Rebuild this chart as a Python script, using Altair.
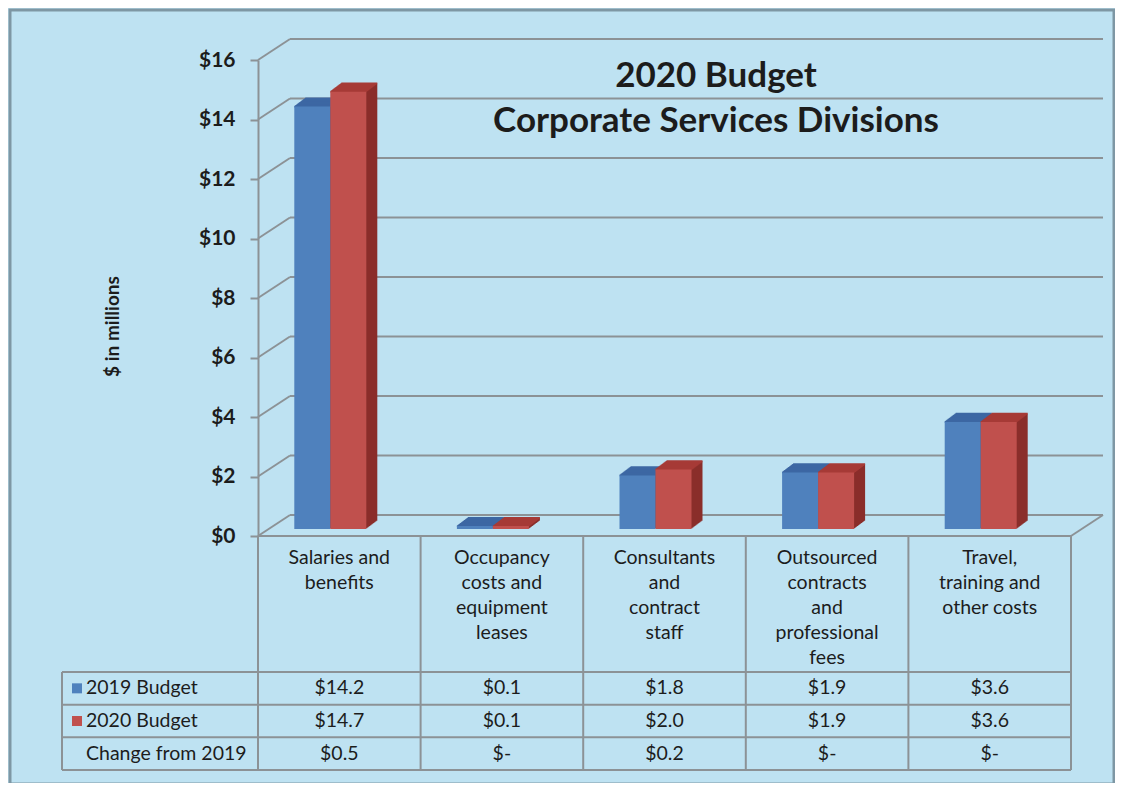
import altair as alt
import pandas as pd

# ---------------- data ----------------
categories = [
    "Salaries and benefits",
    "Occupancy costs and equipment leases",
    "Consultants and contract staff",
    "Outsourced contracts and professional fees",
    "Travel, training and other costs",
]
category_lines = [
    "Salaries and\nbenefits",
    "Occupancy\ncosts and\nequipment\nleases",
    "Consultants\nand\ncontract\nstaff",
    "Outsourced\ncontracts\nand\nprofessional\nfees",
    "Travel,\ntraining and\nother costs",
]
budget_2019 = [14.2, 0.1, 1.8, 1.9, 3.6]
budget_2020 = [14.7, 0.1, 2.0, 1.9, 3.6]
change_labels = ["$0.5", "$-", "$0.2", "$-", "$-"]
row_names = ["2019 Budget", "2020 Budget", "Change from 2019"]
y_ticks = [0, 2, 4, 6, 8, 10, 12, 14, 16]
title_lines = ["2020 Budget", "Corporate Services Divisions"]
y_title = "$ in millions"

# ---------------- styles ----------------
FONT = "Lato"
PANEL = "#BEE2F2"
GRID = "#8C9296"
TXT = "#1c1c1c"
FRONT = {"2019 Budget": "#4F81BD", "2020 Budget": "#C0504D"}
TOPC = {"2019 Budget": "#3D67A3", "2020 Budget": "#A63B37"}
SIDE = {"2019 Budget": "#33588A", "2020 Budget": "#8A2E2B"}
XOFF = {"2019 Budget": -27, "2020 Budget": 9}
BAR_W = 36
LIFT = -7          # bars sit on the middle of the floor
DEPTH_N = 11       # depth steps (1px right, 0.75px up each)
DY = 0.75
WALL_DX, WALL_DY = 32, -21
W, H = 813, 476
ROW_TOP, ROW_BOT = 612, 710
LEFT_COL = -196
TFS = 19.5

bars_df = pd.DataFrame(
    [{"cat": c, "row": row_names[0], "value": v} for c, v in zip(categories, budget_2019)]
    + [{"cat": c, "row": row_names[1], "value": v} for c, v in zip(categories, budget_2020)]
)
table_df = pd.DataFrame(
    [{"cat": c, "row": row_names[0], "label": f"${v:.1f}"} for c, v in zip(categories, budget_2019)]
    + [{"cat": c, "row": row_names[1], "label": f"${v:.1f}"} for c, v in zip(categories, budget_2020)]
    + [{"cat": c, "row": row_names[2], "label": t} for c, t in zip(categories, change_labels)]
)
cats_df = pd.DataFrame({"cat": categories, "lines": category_lines})
ticks_df = pd.DataFrame({"tick": y_ticks})
rows_df = pd.DataFrame({"row": row_names})
one_df = pd.DataFrame({"a": [0]})

X_CAT = alt.X("cat:N", sort=categories,
              scale=alt.Scale(domain=categories, paddingInner=0, paddingOuter=0), axis=None)
VAL_SCALE = alt.Scale(domain=[0, 16], nice=False, zero=False)
ROW_SCALE = alt.Scale(domain=row_names, range=[ROW_TOP, ROW_BOT], paddingInner=0, paddingOuter=0)

layers = []

# panel border
layers.append(
    alt.Chart(one_df).mark_rect(filled=False, stroke="#7E97A4", strokeWidth=3).encode(
        x=alt.value(-248), x2=alt.value(856), y=alt.value(-50), y2=alt.value(724)
    )
)

# back wall grid lines
layers.append(
    alt.Chart(ticks_df).mark_rule(color=GRID, strokeWidth=2, yOffset=WALL_DY, y2Offset=WALL_DY).encode(
        y=alt.Y("tick:Q", scale=VAL_SCALE, axis=None),
        y2=alt.Y2("tick:Q"),
        x=alt.value(WALL_DX), x2=alt.value(W + WALL_DX),
    )
)
# side wall diagonals + y axis
layers.append(
    alt.Chart(ticks_df).mark_rule(color=GRID, strokeWidth=2, y2Offset=WALL_DY).encode(
        y=alt.Y("tick:Q", scale=VAL_SCALE,
                axis=alt.Axis(values=y_ticks, labelExpr="'$' + datum.value",
                              labelFont=FONT, labelFontSize=21, labelFontWeight="bold",
                              labelColor=TXT, labelPadding=15, tickSize=8, tickColor=GRID,
                              tickWidth=2, domainColor=GRID, domainWidth=2, grid=False,
                              title=y_title, titleFont=FONT, titleFontSize=19,
                              titleFontWeight="bold", titleColor=TXT, titleAngle=270,
                              titleX=-146, titleY=266, titleAlign="center",
                              titleBaseline="middle", zindex=2)),
        y2=alt.Y2("tick:Q"),
        x=alt.value(0), x2=alt.value(WALL_DX),
    )
)
# floor right edge
layers.append(
    alt.Chart(one_df).mark_rule(color=GRID, strokeWidth=2).encode(
        x=alt.value(W), x2=alt.value(W + WALL_DX), y=alt.value(H), y2=alt.value(H + WALL_DY)
    )
)

# 3D bars
for series in row_names[:2]:
    base = XOFF[series]
    src = alt.Chart(bars_df).transform_filter(alt.datum.row == series)
    for k in range(DEPTH_N, 0, -1):
        off = LIFT - k * DY
        layers.append(
            src.mark_bar(width=BAR_W, xOffset=base + k, yOffset=off, y2Offset=off,
                         color=SIDE[series]).encode(
                x=X_CAT, y=alt.Y("value:Q", scale=VAL_SCALE, axis=None), y2=alt.datum(0)
            )
        )
    for k in range(0, DEPTH_N + 1):
        off = LIFT - k * DY
        layers.append(
            src.mark_bar(width=BAR_W, xOffset=base + k, yOffset=off - 0.9, y2Offset=off + 0.9,
                         color=TOPC[series]).encode(
                x=X_CAT, y=alt.Y("value:Q", scale=VAL_SCALE, axis=None), y2=alt.Y2("value:Q")
            )
        )
    layers.append(
        src.mark_bar(width=BAR_W, xOffset=base, yOffset=LIFT, y2Offset=LIFT,
                     color=FRONT[series]).encode(
            x=X_CAT, y=alt.Y("value:Q", scale=VAL_SCALE, axis=None), y2=alt.datum(0)
        )
    )

# table grid: column lines
layers.append(
    alt.Chart(cats_df).mark_rule(color=GRID, strokeWidth=2).encode(
        x=alt.X("cat:N", sort=categories,
                scale=alt.Scale(domain=categories, paddingInner=0, paddingOuter=0),
                axis=None, bandPosition=0),
        y=alt.value(H), y2=alt.value(ROW_BOT),
    )
)
layers.append(
    alt.Chart(one_df).mark_rule(color=GRID, strokeWidth=2).encode(
        x=alt.value(W), y=alt.value(H), y2=alt.value(ROW_BOT)
    )
)
layers.append(
    alt.Chart(one_df).mark_rule(color=GRID, strokeWidth=2).encode(
        x=alt.value(LEFT_COL), y=alt.value(ROW_TOP), y2=alt.value(ROW_BOT)
    )
)
# front floor edge
layers.append(
    alt.Chart(one_df).mark_rule(color=GRID, strokeWidth=2).encode(
        x=alt.value(0), x2=alt.value(W), y=alt.value(H)
    )
)
# row lines
layers.append(
    alt.Chart(rows_df).mark_rule(color=GRID, strokeWidth=2).encode(
        y=alt.Y("row:N", sort=row_names, scale=ROW_SCALE, axis=None, bandPosition=0),
        x=alt.value(LEFT_COL), x2=alt.value(W),
    )
)
layers.append(
    alt.Chart(one_df).mark_rule(color=GRID, strokeWidth=2).encode(
        y=alt.value(ROW_BOT), x=alt.value(LEFT_COL), x2=alt.value(W)
    )
)

# category labels
layers.append(
    alt.Chart(cats_df).mark_text(font=FONT, fontSize=TFS, color=TXT, baseline="top",
                                 lineBreak="\n", lineHeight=25).encode(
        x=X_CAT, y=alt.value(H + 13), text="lines:N"
    )
)
# row labels + legend squares
layers.append(
    alt.Chart(rows_df).mark_text(font=FONT, fontSize=TFS, color=TXT, align="left",
                                 baseline="middle").encode(
        x=alt.value(LEFT_COL + 24),
        y=alt.Y("row:N", sort=row_names, scale=ROW_SCALE, axis=None),
        text="row:N",
    )
)
layers.append(
    alt.Chart(rows_df).transform_filter(
        alt.FieldOneOfPredicate(field="row", oneOf=row_names[:2])
    ).mark_square(size=100, opacity=1, filled=True).encode(
        x=alt.value(LEFT_COL + 15),
        y=alt.Y("row:N", sort=row_names, scale=ROW_SCALE, axis=None),
        color=alt.Color("row:N", scale=alt.Scale(domain=row_names[:2],
                                                 range=[FRONT[row_names[0]], FRONT[row_names[1]]]),
                        legend=None),
    )
)
# table values
layers.append(
    alt.Chart(table_df).mark_text(font=FONT, fontSize=TFS, color=TXT, baseline="middle").encode(
        x=X_CAT,
        y=alt.Y("row:N", sort=row_names, scale=ROW_SCALE, axis=None),
        text="label:N",
    )
)

# title
for i, line in enumerate(title_lines):
    layers.append(
        alt.Chart(pd.DataFrame({"t": [line]})).mark_text(
            font=FONT, fontSize=35, fontWeight="bold", color=TXT, align="center",
            baseline="alphabetic").encode(
            x=alt.value(458), y=alt.value(27 + 45 * i), text="t:N"
        )
    )

chart = alt.layer(*layers).resolve_scale(y="independent").properties(
    width=W, height=H,
    padding={"left": 250, "top": 52, "right": 44, "bottom": 247},
    autosize=alt.AutoSizeParams(type="none"),
    background=PANEL,
).configure_view(strokeWidth=0)

chart.save("out.html", embed_options={"renderer": "svg", "actions": False})
